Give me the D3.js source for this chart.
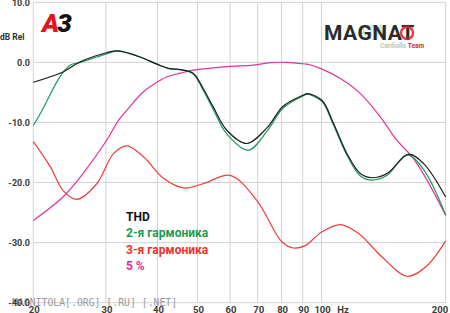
<!DOCTYPE html>
<html><head><meta charset="utf-8">
<script src="https://cdn.jsdelivr.net/npm/d3@7"></script>
<style>
html,body{margin:0;padding:0;background:#fff;}
svg{display:block;}
</style></head>
<body>
<svg id="chart" width="450" height="313"></svg>
<script>
// ---- data ----
const xTicks = [20,30,40,50,60,70,80,90,100,200];
const yTicks = [10,0,-10,-20,-30,-40];
const yTickLabels = ["10.0","0.0","-10.0","-20.0","-30.0","-40.0"];
const legendLabels = ["THD","2-я гармоника","3-я гармоника","5 %"];

const thdF  = [20,23.6,26.0,30.1,31.9,36.3,39.9,42.5,45.4,48.8,51.6,54.6,58.9,65.9,73.7,80.7,90.3,92.2,100.2,106.8,115.3,124.2,132.6,144.2,162.6,176.6,200];
const thdDb = [-3.3,-1.6,0.1,1.6,1.9,0.9,-0.3,-1.0,-1.2,-1.8,-4.3,-7.4,-11.3,-13.5,-10.9,-7.3,-5.45,-5.2,-6.3,-10.1,-15.2,-18.5,-19.2,-18.5,-15.3,-16.8,-22.4];

const h2F  = [20,21.0,23.2,24.6,26.0,28.5,31.3,32.3,36.3,39.9,42.5,45.4,48.8,51.6,54.6,58.9,66.4,73.7,80.7,90.3,92.2,100.2,106.8,115.3,124.2,132.6,144.2,161.0,176.6,200];
const h2Db = [-10.5,-8.0,-2.4,-0.45,0.0,0.9,1.8,1.9,0.9,-0.3,-1.0,-1.2,-1.9,-4.6,-7.8,-11.9,-14.6,-11.5,-7.6,-5.55,-5.3,-6.5,-10.4,-15.5,-18.9,-19.6,-18.8,-15.4,-17.8,-25.4];

const h3F  = [20,22.0,23.6,25.5,28.5,31.3,33.7,37.0,41.4,46.2,51.6,60.0,69.7,80.2,85.5,91.3,100.2,111.1,123.0,140.2,161.2,178.5,200];
const h3Db = [-13.2,-17.4,-21.3,-22.8,-20.2,-15.2,-13.9,-15.7,-19.3,-20.9,-20.2,-18.8,-23.0,-29.9,-30.9,-30.5,-28.2,-27.0,-28.5,-32.4,-35.6,-34.1,-29.7];

const h5F  = [20,23.6,26.4,30.1,32.2,33.7,37.0,40.6,42.2,45.4,48.8,58.9,68.3,75.1,82.4,88.7,92.2,99.3,111.1,124.2,138.9,152.4,165.7,180.2,200];
const h5Db = [-26.3,-22.4,-18.5,-13.0,-9.6,-8.0,-4.9,-3.0,-2.4,-1.8,-1.3,-0.7,-0.45,-0.05,0.0,-0.2,-0.3,-1.0,-2.7,-5.2,-9.1,-13.0,-15.7,-19.6,-25.5];

const seriesColors = ["#1e1e1e","#1c9a5c","#e8413c","#e0339c"];
const legendColors = ["#111111","#1a9a50","#e8322e","#d8309a"];

// ---- layout ----
const svg = d3.select("#chart");
const x = d3.scaleLog().domain([20,200]).range([33.3,445.7]);
const y = d3.scaleLinear().domain([-40,10]).range([302.7,2.3]);

// grid
const grid = svg.append("g");
grid.selectAll("line.h").data(yTicks).join("line")
  .attr("x1",x(20)).attr("x2",x(200))
  .attr("y1",d=>y(d)).attr("y2",d=>y(d))
  .attr("stroke","#d2d2d2").attr("stroke-width",1);
grid.selectAll("line.v").data(xTicks).join("line")
  .attr("x1",d=>x(d)).attr("x2",d=>x(d))
  .attr("y1",y(10)).attr("y2",y(-40))
  .attr("stroke","#d2d2d2").attr("stroke-width",1);

// watermark
svg.append("text").attr("x",12).attr("y",306)
  .attr("font-family","DejaVu Sans Mono").attr("font-size",9.8)
  .attr("fill","#9a9a9a")
  .text("MAGNITOLA[.ORG] [.RU] [.NET]");

// y tick labels
svg.append("g").selectAll("text").data(yTicks).join("text")
  .attr("x",30).attr("y",d=>y(d)+3.2)
  .attr("text-anchor","end")
  .attr("font-family","Roboto").attr("font-weight","bold").attr("font-size",9)
  .attr("fill","#3a3a3a")
  .text((d,i)=>yTickLabels[i]);

svg.append("text").attr("x",0).attr("y",40)
  .attr("font-family","Roboto").attr("font-weight","bold").attr("font-size",8.5)
  .attr("fill","#333").text("dB Rel");

// x tick labels
svg.append("g").selectAll("text").data(xTicks).join("text")
  .attr("x",d=>d===200?440:x(d)+1).attr("y",312.5)
  .attr("text-anchor","middle")
  .attr("font-family","Roboto").attr("font-weight","bold").attr("font-size",9.5)
  .attr("fill","#3a3a3a")
  .text(d=>d);
svg.append("text").attr("x",343).attr("y",313)
  .attr("text-anchor","middle")
  .attr("font-family","Roboto").attr("font-weight","bold").attr("font-size",9.5)
  .attr("fill","#3a3a3a").text("Hz");

// curves
const line = d3.line().x(d=>x(d[0])).y(d=>y(d[1])).curve(d3.curveCatmullRom.alpha(0.5));
const series = [
  d3.zip(h5F,h5Db),
  d3.zip(h3F,h3Db),
  d3.zip(h2F,h2Db),
  d3.zip(thdF,thdDb)
];
const sColors = [seriesColors[3],seriesColors[2],seriesColors[1],seriesColors[0]];
svg.append("g").selectAll("path").data(series).join("path")
  .attr("d",line).attr("fill","none")
  .attr("stroke",(d,i)=>sColors[i]).attr("stroke-width",1.2);

// legend
svg.append("g").selectAll("text").data(legendLabels).join("text")
  .attr("x",126).attr("y",(d,i)=>221+i*16.3)
  .attr("font-family","Roboto").attr("font-weight","bold").attr("font-size",12)
  .attr("fill",(d,i)=>legendColors[i])
  .text(d=>d);

// A3 logo
const a3 = svg.append("text").attr("x",42).attr("y",32)
  .attr("font-family","Roboto").attr("font-weight","900").attr("font-style","italic")
  .attr("font-size",26).attr("letter-spacing",-2);
a3.append("tspan").attr("fill","#e3141e").text("A");
a3.append("tspan").attr("fill","#111").text("3");

// MAGNAT logo
svg.append("text").attr("x",357).attr("y",36).attr("font-family","Roboto")
  .attr("font-weight","bold").attr("font-size",14).attr("fill","#cfe7cf").attr("letter-spacing",1).text("ATA");
svg.append("text").attr("x",324).attr("y",40)
  .attr("font-family","Roboto").attr("font-weight","bold").attr("font-size",21)
  .attr("fill","#2b2b2b").attr("letter-spacing",0.5)
  .text("MAGNAT");
svg.append("circle").attr("cx",407).attr("cy",33).attr("r",6)
  .attr("fill","none").attr("stroke","#d9262a").attr("stroke-width",2.5).attr("opacity",0.85);
const ct = svg.append("text").attr("x",380).attr("y",48)
  .attr("font-family","Roboto").attr("font-weight","bold").attr("font-size",6.5);
ct.append("tspan").attr("fill","#b8c9b8").text("Cardiollo ");
ct.append("tspan").attr("fill","#d9262a").text("Team");
</script>
</body></html>
